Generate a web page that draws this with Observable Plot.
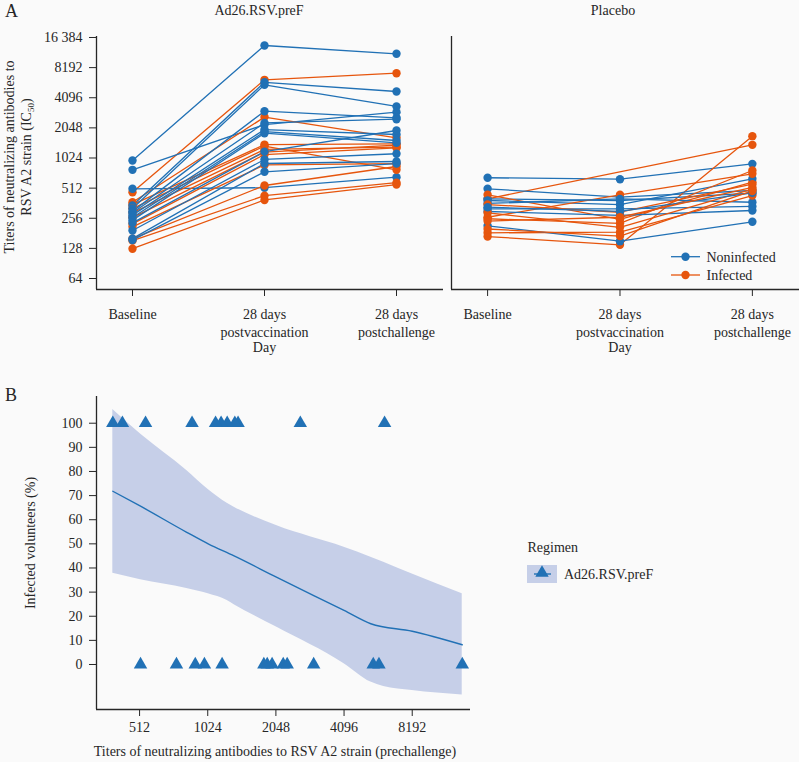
<!DOCTYPE html>
<html><head><meta charset="utf-8">
<script src="https://cdn.jsdelivr.net/npm/d3@7"></script>
<script src="https://cdn.jsdelivr.net/npm/@observablehq/plot@0.6"></script>
<style>
body{margin:0;background:#fafafa;font-family:"Liberation Serif","Times New Roman",Times,Tinos,"DejaVu Serif","Noto Serif",serif;color:#262626}
#root{position:relative;width:799px;height:762px;overflow:hidden}
svg{overflow:visible}
svg text{font-family:"Liberation Serif","Times New Roman",Times,Tinos,"DejaVu Serif","Noto Serif",serif !important}
</style></head><body><div id="root"></div>
<script>
// ---------- Panel A data ----------
const timepoints = ["Baseline", "28 days\npostvaccination", "28 days\npostchallenge"];
const dayLabel = "Day";
const yTicksA = [64, 128, 256, 512, 1024, 2048, 4096, 8192, 16384];
const yTickLabelsA = ["64", "128", "256", "512", "1024", "2048", "4096", "8192", "16 384"];
const statusNames = ["Noninfected", "Infected"];

// Ad26.RSV.preF group (one entry per volunteer)
const vacBaseline  = [966, 466, 780, 370, 504, 350, 343, 320, 320, 290, 300, 260, 290, 225, 275, 210, 260, 160, 245, 153, 230, 127, 193, 160, 155];
const vacPostvacc  = [13630, 6185, 2206, 2625, 517, 1394, 5840, 1349, 5512, 1248, 3007, 1173, 2297, 1109, 1970, 873, 1875, 544, 1812, 430, 1185, 390, 990, 902, 745];
const vacPostchal  = [11260, 7205, 2940, 1629, 658, 1418, 4728, 780, 3350, 1315, 2583, 1380, 2500, 1290, 1759, 900, 1532, 842, 1450, 580, 1928, 556, 1129, 945, 900];
const vacInfected  = [0, 1, 0, 1, 0, 1, 0, 1, 0, 1, 0, 1, 0, 1, 0, 1, 0, 1, 0, 1, 0, 1, 0, 0, 0];

// Placebo group
const plaBaseline  = [650, 400, 504, 168, 400, 439, 385, 262, 360, 253, 318, 183, 299, 351, 215, 290, 330, 240, 200];
const plaPostvacc  = [629, null, 416, 139, 385, 250, 351, 439, 400, 228, 318, 186, 273, 294, 151, 208, 300, 262, 170];
const plaPostchal  = [895, 1386, 485, 1692, 456, 587, 634, 712, 370, 768, 336, 432, 306, 560, 236, 500, 460, 520, 480];
const plaInfected  = [0, 1, 0, 1, 0, 1, 0, 1, 0, 1, 0, 1, 0, 1, 0, 1, 0, 1, 1];

// ---------- Panel B data ----------
const xTicksB = [512, 1024, 2048, 4096, 8192];
const yTicksB = [0, 10, 20, 30, 40, 50, 60, 70, 80, 90, 100];
const fitTiter = [390, 517, 827, 1029, 1339, 2059, 4096, 5376, 8192, 13620];
const fitPct   = [71.8, 65.6, 54.8, 50.0, 45.0, 36.2, 22.4, 16.9, 13.8, 8.2];
const bandTiter = [390, 517, 827, 1029, 1248, 1339, 2059, 4096, 5376, 6128, 8192, 13620];
const bandHigh  = [105.7, 95.5, 80.4, 72.5, 66.8, 65.2, 57.6, 48.6, 44.5, 42.4, 37.5, 29.3];
const bandLow   = [37.8, 35.1, 31.5, 29.3, 26.5, 24.8, 15.5, 0.3, -7.3, -9.1, -10.8, -12.6];
const regimenName = "Ad26.RSV.preF";

// ---------- styling ----------
const BLUE = "#2171b5", ORANGE = "#e6550d", BAND = "#c6cfe8", INK = "#262626";
const FONT = "'Liberation Serif', 'Times New Roman', Times, Tinos, 'DejaVu Serif', serif";
const colorOf = s => s === "Infected" ? ORANGE : BLUE;

function buildRows(group, base, p1, p2, inf) {
  const rows = [];
  base.forEach((b, i) => {
    [b, p1[i], p2[i]].forEach((v, t) => {
      if (v != null) rows.push({id: group + i, t, v, status: statusNames[inf[i]]});
    });
  });
  return rows;
}
const vacRows = buildRows("vac", vacBaseline, vacPostvacc, vacPostchal, vacInfected);
const plaRows = buildRows("pla", plaBaseline, plaPostvacc, plaPostchal, plaInfected);

const xDomA = [-0.2727, 2.356];
const yDomA = [49.7, 16760];

function panelA(rows, {width, ml, mr, showY}) {
  return Plot.plot({
    width, height: 360, marginLeft: ml, marginRight: mr, marginTop: 36, marginBottom: 71,
    style: {background: "transparent", fontFamily: FONT, fontSize: "14px", color: INK, overflow: "visible"},
    x: {type: "linear", domain: xDomA, label: null},
    y: {type: "log", base: 2, domain: yDomA, label: null, axis: showY ? undefined : null},
    marks: [
      Plot.ruleX([xDomA[0]], {stroke: INK, strokeWidth: 1.3}),
      Plot.ruleY([yDomA[0]], {stroke: INK, strokeWidth: 1.3}),
      showY ? Plot.axisY({ticks: yTicksA, tickFormat: d => yTickLabelsA[yTicksA.indexOf(d)], tickSize: 7, tickPadding: 7, label: null, fontSize: 14}) : null,
      Plot.axisX({ticks: [0, 1, 2], tickFormat: () => "", tickSize: 7, label: null}),
      Plot.text(timepoints, {x: (d, i) => i, text: d => d, frameAnchor: "bottom", lineAnchor: "top", dy: 17, lineHeight: 1.28, fontSize: 14, fill: INK}),
      Plot.text([dayLabel], {x: () => 1, text: d => d, frameAnchor: "bottom", lineAnchor: "top", dy: 53, fontSize: 14, fill: INK}),
      Plot.line(rows, {x: "t", y: "v", z: "id", stroke: d => colorOf(d.status), strokeWidth: 1.3}),
      Plot.dot(rows, {x: "t", y: "v", r: 4.2, fill: d => colorOf(d.status), stroke: "none"})
    ]
  });
}

const root = document.getElementById("root");
function place(el, left, top) {
  el.style.position = "absolute"; el.style.left = left + "px"; el.style.top = top + "px";
  root.appendChild(el);
}

place(panelA(vacRows, {width: 445, ml: 96, mr: 2, showY: true}), 0, 0);
place(panelA(plaRows, {width: 359, ml: 11, mr: 0, showY: false}), 440, 0);

// Panel B
const bPoints = vacPostvacc.map((t, i) => ({t, pct: vacInfected[i] ? 100 : 0}));
const fitRows = fitTiter.map((t, i) => ({t, p: fitPct[i]}));
const bandRows = bandTiter.map((t, i) => ({t, lo: bandLow[i], hi: bandHigh[i]}));
const xDomB = [330.4, 14817];
const yDomB = [-18.65, 111.07];

const plotB = Plot.plot({
  width: 480, height: 382, marginLeft: 96, marginRight: 10, marginTop: 16, marginBottom: 53,
  style: {background: "transparent", fontFamily: FONT, fontSize: "14px", color: INK, overflow: "visible"},
  x: {type: "log", base: 2, domain: xDomB, label: null},
  y: {domain: yDomB, label: null},
  marks: [
    Plot.areaY(bandRows, {x: "t", y1: "lo", y2: "hi", fill: BAND, curve: "monotone-x"}),
    Plot.line(fitRows, {x: "t", y: "p", stroke: BLUE, strokeWidth: 1.4, curve: "monotone-x"}),
    Plot.dot(bPoints, {x: "t", y: "pct", symbol: "triangle", r: 5, fill: BLUE, stroke: "none"}),
    Plot.ruleX([xDomB[0]], {stroke: INK, strokeWidth: 1.3}),
    Plot.ruleY([yDomB[0]], {stroke: INK, strokeWidth: 1.3}),
    Plot.axisY({ticks: yTicksB, tickSize: 7, tickPadding: 7, label: null, fontSize: 14}),
    Plot.axisX({ticks: xTicksB, tickFormat: d => String(d), tickSize: 7, tickPadding: 6, label: null, fontSize: 14})
  ]
});
place(plotB, 0, 380);

// ---------- overlay texts & legends ----------
const ov = d3.select(root).append("svg")
  .attr("width", 799).attr("height", 762)
  .style("position", "absolute").style("left", 0).style("top", 0)
  .style("font-family", FONT).style("fill", INK);

function txt(s, x, y, size, anchor, rot) {
  const t = ov.append("text").attr("font-size", size).attr("text-anchor", anchor || "start").attr("fill", INK);
  if (rot) t.attr("transform", `translate(${x},${y}) rotate(-90)`);
  else t.attr("x", x).attr("y", y);
  t.text(s);
  return t;
}
txt("A", 5, 16.5, 18);
txt("Ad26.RSV.preF", 259, 15, 14, "middle");
txt("Placebo", 613, 15, 14, "middle");
txt("Titers of neutralizing antibodies to", 13.5, 157, 14, "middle", true);
const l2 = ov.append("text").attr("font-size", 14).attr("text-anchor", "middle").attr("fill", INK)
  .attr("transform", "translate(30.5,157) rotate(-90)");
l2.append("tspan").text("RSV A2 strain (IC");
l2.append("tspan").attr("font-size", 9).attr("dy", 3).text("50");
l2.append("tspan").attr("dy", -3).text(")");

txt("B", 5, 401, 18);
txt("Infected volunteers (%)", 35, 543, 14, "middle", true);
txt("Titers of neutralizing antibodies to RSV A2 strain (prechallenge)", 275, 756, 14, "middle");

// Legend A
statusNames.forEach((s, i) => {
  const y = 256.7 + i * 18.3;
  ov.append("line").attr("x1", 671).attr("x2", 700).attr("y1", y).attr("y2", y).attr("stroke", colorOf(s)).attr("stroke-width", 1.3);
  ov.append("circle").attr("cx", 685.5).attr("cy", y).attr("r", 4.2).attr("fill", colorOf(s));
  txt(s, 706.5, y + 5, 14);
});

// Legend B
txt("Regimen", 527.5, 552, 14);
ov.append("rect").attr("x", 527).attr("y", 565).attr("width", 30).attr("height", 18).attr("fill", BAND);
ov.append("line").attr("x1", 534).attr("x2", 551).attr("y1", 574).attr("y2", 574).attr("stroke", BLUE).attr("stroke-width", 1.4);
ov.append("path").attr("d", d3.symbol(d3.symbolTriangle, 78)()).attr("transform", "translate(542,573)").attr("fill", BLUE);
txt(regimenName, 564, 579, 14);
</script></body></html>
